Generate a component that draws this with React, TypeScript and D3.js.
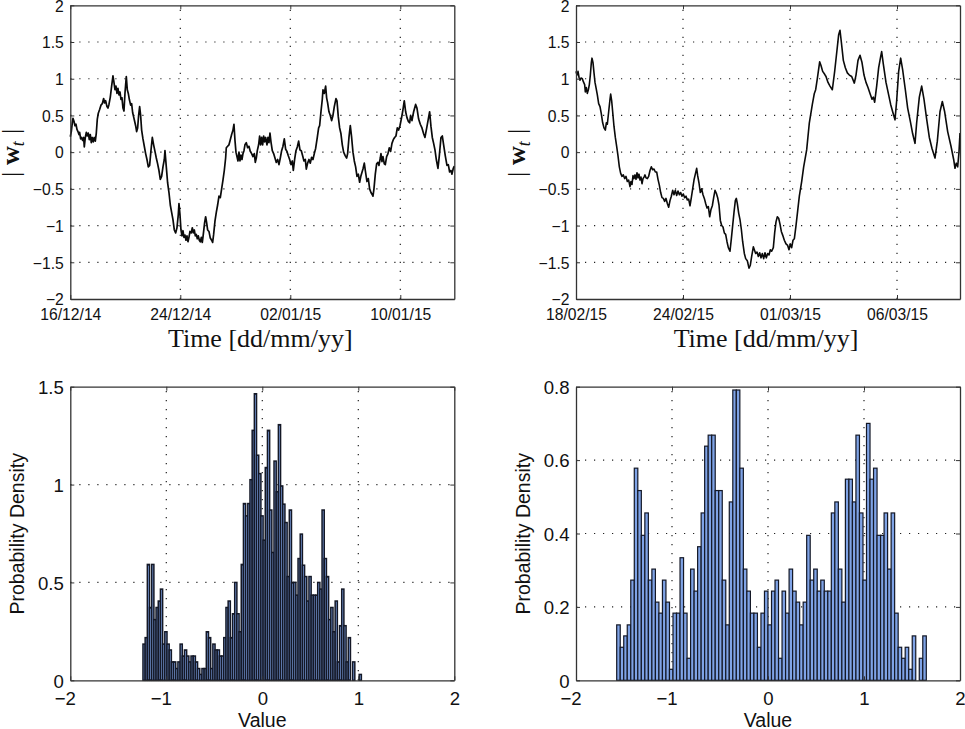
// Two weight traces with their value histograms, MATLAB-style axes
import { useEffect, useRef } from "react"
import * as d3 from "d3"

type Point = [number, number]

// [sample, weight] pairs, 1152 samples across each
const traceLeft: Point[] = [
  [0,.21],[3,.28],[6,.40],[8,.46],[11,.42],[14,.36],[17,.38],[20,.31],[23,.28],[26,.24],[28,.27],[31,.18],[34,.2],[37,.16],[40,.2],[42,.07],[45,.2],[48,.27],[51,.22],[54,.26],[57,.17],[60,.24],[63,.13],[66,.2],[69,.14],[72,.2],[75,.15],[78,.26],[81,.45],[84,.53],[88,.58],[92,.64],[96,.66],[100,.73],[103,.67],[106,.7],[110,.62],[113,.6],[116,.65],[120,.75],[124,.9],[128,1.04],[131,.95],[134,.85],[137,.9],[140,.8],[143,.87],[146,.78],[149,.82],[152,.72],[155,.74],[158,.6],[161,.56],[164,.8],[168,1.03],[171,.85],[174,.8],[177,.72],[181,.64],[184,.66],[187,.54],[190,.48],[193,.42],[196,.36],[199,.28],[202,.33],[205,.5],[208,.62],[211,.5],[214,.3],[218,.18],[222,.08],[226,-.02],[230,-.1],[234,-.2],[238,-.18],[242,.02],[246,.2],[250,.1],[254,.01],[258,-.08],[262,-.16],[266,-.25],[270,-.37],[274,-.33],[278,-.2],[282,-.1],[284,.02],[288,-.2],[292,-.42],[296,-.55],[300,-.72],[304,-.82],[308,-.92],[312,-1.06],[316,-1.1],[320,-1.03],[324,-.85],[326,-.7],[329,-.85],[332,-1.06],[335,-1.14],[338,-1.07],[341,-1.16],[344,-1.13],[347,-1.2],[350,-1.14],[353,-1.22],[356,-1.16],[359,-1.08],[363,-1.1],[366,-1.03],[369,-1.1],[372,-1.06],[375,-1.14],[378,-1.12],[381,-1.18],[384,-1.14],[387,-1.2],[390,-1.22],[393,-1.16],[396,-1.23],[399,-1.12],[403,-.96],[406,-.88],[409,-.96],[412,-1.06],[416,-1.08],[420,-1.17],[424,-1.2],[427,-1.23],[430,-1.12],[434,-.94],[438,-.82],[442,-.72],[446,-.6],[450,-.62],[454,-.5],[458,-.38],[462,-.25],[466,-.08],[468,.06],[472,.08],[476,.1],[480,.17],[484,.24],[488,.3],[491,.38],[494,.16],[497,0],[500,-.06],[503,-.12],[506,0],[509,-.12],[512,-.04],[515,-.1],[518,-.02],[521,.02],
  [524,.1],[528,.13],[532,.06],[536,.08],[540,.01],[544,-.02],[548,-.06],[552,-.02],[555,-.14],[558,-.08],[561,.02],[565,.1],[568,.22],[571,.1],[574,.2],[577,.1],[580,.22],[583,.14],[586,.2],[590,.1],[593,.2],[596,.13],[599,.26],[602,.14],[606,.02],[610,-.02],[614,-.08],[618,-.14],[622,-.1],[626,-.17],[630,-.08],[634,.02],[638,.08],[642,.18],[646,.04],[650,.01],[654,-.05],[658,-.1],[662,-.17],[666,-.12],[669,-.25],[673,-.1],[677,.02],[681,.07],[685,.15],[689,.03],[693,.02],[697,-.05],[701,-.12],[705,-.1],[708,-.23],[712,-.15],[716,-.1],[720,-.15],[724,-.07],[728,-.1],[732,-.02],[736,.05],[741,.2],[745,.33],[748,.36],[752,.55],[756,.72],[758,.85],[762,.8],[766,.9],[769,.74],[772,.67],[776,.55],[780,.5],[784,.43],[788,.5],[792,.62],[797,.73],[800,.7],[804,.48],[808,.33],[812,.25],[816,.1],[820,0],[825,-.05],[829,-.08],[832,-.02],[836,.2],[840,.36],[844,.2],[848,0],[852,-.12],[856,-.2],[860,-.33],[864,-.3],[868,-.41],[872,-.32],[878,-.23],[882,-.15],[885,-.25],[890,-.4],[894,-.36],[898,-.5],[902,-.55],[906,-.58],[908,-.6],[911,-.5],[915,-.3],[919,-.16],[923,-.14],[926,-.18],[930,-.08],[932,-.02],[935,-.13],[938,-.06],[942,-.16],[945,-.17],[949,-.06],[953,-.02],[957,.06],[961,.01],[965,.12],[969,.17],[973,.2],[977,.22],[981,.33],[985,.3],[989,.36],[993,.45],[997,.55],[1002,.7],[1006,.55],[1010,.47],[1014,.42],[1018,.4],[1021,.5],[1025,.43],[1030,.55],[1036,.65],[1040,.6],[1045,.45],[1050,.38],[1055,.33],[1060,.25],[1064,.2],[1068,.3],[1074,.45],[1078,.55],[1082,.35],[1086,.2],[1090,.12],[1094,.03],[1098,-.1],[1103,-.22],[1107,-.05],[1112,.2],[1116,.22],[1120,.1],[1125,-.05],[1130,-.18],[1134,-.17],[1138,-.27],[1142,-.25],[1145,-.3],[1149,-.22],[1152,-.19],
]

const traceRight: Point[] = [
  [0,1.1],[3,1.05],[6,1.1],[9,1.02],[12,.98],[15,1.01],[19,1],[22,.96],[26,.92],[28,.82],[31,.88],[34,.8],[37,.85],[40,.92],[43,1.05],[46,1.22],[48,1.28],[51,1.22],[54,1.08],[57,.95],[60,.88],[64,.78],[68,.66],[72,.62],[76,.52],[80,.4],[84,.33],[88,.3],[91,.4],[94,.38],[98,.55],[102,.72],[104,.79],[107,.7],[110,.55],[114,.35],[118,.2],[122,.08],[126,-.05],[130,-.2],[134,-.29],[138,-.33],[142,-.31],[146,-.36],[150,-.33],[154,-.4],[158,-.38],[162,-.47],[165,-.4],[168,-.44],[171,-.32],[174,-.36],[177,-.31],[180,-.37],[183,-.28],[186,-.35],[189,-.3],[192,-.38],[195,-.34],[198,-.43],[201,-.36],[204,-.34],[207,-.31],[210,-.35],[214,-.36],[218,-.33],[222,-.25],[226,-.2],[230,-.24],[234,-.23],[238,-.27],[242,-.27],[246,-.37],[250,-.45],[254,-.55],[258,-.62],[262,-.63],[266,-.67],[270,-.63],[274,-.7],[278,-.75],[282,-.66],[286,-.6],[290,-.52],[294,-.58],[298,-.52],[302,-.59],[306,-.53],[310,-.58],[314,-.55],[318,-.6],[322,-.57],[326,-.62],[330,-.6],[334,-.65],[338,-.64],[342,-.73],[346,-.62],[350,-.5],[354,-.38],[358,-.3],[362,-.22],[365,-.32],[369,-.42],[373,-.55],[377,-.5],[381,-.58],[385,-.63],[389,-.7],[393,-.76],[397,-.74],[401,-.88],[405,-.78],[409,-.73],[413,-.62],[417,-.52],[421,-.56],[425,-.62],[429,-.72],[433,-.93],[437,-1],[441,-1.02],[445,-1.1],
  [449,-1.12],[453,-1.22],[457,-1.3],[462,-1.35],[466,-1.18],[470,-1],[474,-.82],[478,-.66],[481,-.63],[484,-.7],[488,-.83],[492,-.92],[496,-1.05],[500,-1.22],[505,-1.38],[509,-1.45],[514,-1.48],[519,-1.58],[523,-1.54],[527,-1.42],[532,-1.29],[535,-1.33],[539,-1.38],[543,-1.36],[547,-1.42],[551,-1.37],[555,-1.44],[559,-1.38],[563,-1.45],[567,-1.37],[571,-1.44],[575,-1.38],[579,-1.4],[583,-1.33],[587,-1.35],[592,-1.3],[596,-1.1],[600,-.95],[604,-.88],[608,-.9],[612,-.98],[616,-1.08],[620,-1.13],[625,-1.2],[630,-1.25],[635,-1.27],[639,-1.33],[643,-1.25],[647,-1.3],[651,-1.2],[655,-1.18],[660,-1],[665,-.8],[670,-.6],[677,-.4],[683,-.2],[692,.03],[700,.4],[709,.65],[715,.8],[719,.85],[724,1],[731,1.23],[735,1.18],[740,1.1],[746,1.06],[750,1.03],[756,.95],[762,.9],[769,.85],[776,1.1],[782,1.35],[788,1.6],[792,1.66],[796,1.5],[802,1.25],[808,1.15],[814,1.08],[820,1.05],[827,1.03],[835,.94],[840,1.05],[846,1.25],[852,1.32],[858,1.22],[864,1.05],[870,.95],[876,.88],[882,.8],[888,.72],[892,.75],[896,.68],[902,.9],[908,1.15],[914,1.3],[917,1.37],[922,1.2],[930,.95],[937,.8],[944,.65],[950,.55],[957,.44],[962,.7],[968,1.1],[974,1.28],[980,1.12],[988,.85],[995,.6],[1003,.42],[1010,.25],[1017,.12],[1022,.4],[1030,.75],[1037,.9],[1044,.72],[1052,.45],[1060,.2],[1068,.05],[1077,-.08],[1084,.15],[1092,.55],[1099,.69],[1106,.55],[1115,.28],[1125,.08],[1133,-.1],[1137,-.22],[1141,-.15],[1145,-.2],[1149,0],[1152,.26],
]

const ticksLeft = [0, 330, 660, 990]
const labelsLeft = ["16/12/14", "24/12/14", "02/01/15", "10/01/15"]
const ticksRight = [0, 321, 642, 963]
const labelsRight = ["18/02/15", "24/02/15", "01/03/15", "06/03/15"]
const weightTicks = [-2, -1.5, -1, -0.5, 0, 0.5, 1, 1.5, 2]

// Histogram densities, one per equal-width bin
const densityLeft = [
  .185,.218,.592,.372,.592,.31,.372,.405,.466,.185,
  .248,.185,.155,.094,.094,.06,.094,.185,.124,.155,
  .124,.094,.124,.124,.094,.06,.03,.06,.06,.248,
  .218,.06,.185,.155,.155,.124,.124,.218,.372,.405,
  .218,.34,.5,.34,.248,.592,.903,.84,.903,1.025,
  1.277,1.464,1.15,1.056,.84,.716,1.087,1.277,.87,.653,
  1.12,.963,1.306,.993,.9,.806,.53,.87,.5,.5,
  .435,.622,.747,.588,.53,.405,.53,.435,.435,.435,
  .5,.466,.87,.622,.53,.31,.372,.248,.405,.094,
  .279,.466,.279,.094,.218,0,.094,0,0,.03,
]
const densityRight = [
  .151,.09,.121,.151,.273,.578,.517,.395,.456,.273,
  .303,.213,.183,.273,.213,.03,.183,.183,.334,.183,
  .06,.303,.243,.364,.456,.638,.668,.668,.517,.517,
  .273,.151,.486,.791,.791,.578,.303,.243,.183,.183,
  .09,.183,.243,.151,.243,.273,.06,.243,.183,.303,
  .243,.213,.151,.213,.395,.273,.303,.243,.273,.243,
  .243,.456,.486,.303,.213,.548,.548,.486,.668,.456,
  .273,.7,.548,.578,.395,.395,.456,.303,.456,.183,
  .09,.06,.09,.03,.121,0,.06,.121,
]
const rangeLeft: [number, number] = [-1.243, 1.032]
const rangeRight: [number, number] = [-1.576, 1.649]
const valueTicks = [-2, -1, 0, 1, 2]
const densityTicksLeft = [0, 0.5, 1, 1.5]
const densityTicksRight = [0, 0.2, 0.4, 0.6, 0.8]

const SANS = "'Liberation Sans', Arial, sans-serif"
const SERIF = "'Liberation Serif', 'Times New Roman', serif"
const INK = "#333"

type Selection = d3.Selection<SVGGElement, unknown, null, undefined>
type Scale = d3.ScaleLinear<number, number>

// Inward ticks on all four sides and the box
function drawFrame(
  g: Selection,
  x: Scale,
  y: Scale,
  xTicks: number[],
  yTicks: number[],
  fontSize: number,
  xFormat: (v: number) => string,
  xLabelY: number,
  xLabelShift: (v: number) => number
) {
  const [x0, x1] = x.range()
  const [y0, y1] = y.range()

  const axes: [d3.Axis<d3.NumberValue>, number, number, string][] = [
    [d3.axisBottom(x).tickValues(xTicks).tickFormat((v) => xFormat(+v)), 0, y0, "bottom"],
    [d3.axisTop(x).tickValues(xTicks).tickFormat(() => ""), 0, y1, "top"],
    [d3.axisLeft(y).tickValues(yTicks).tickFormat(d3.format("~g") as any), x0, 0, "left"],
    [d3.axisRight(y).tickValues(yTicks).tickFormat(() => ""), x1, 0, "right"],
  ]
  axes.forEach(([axis, tx, ty, side]) => {
    const a = g.append("g")
      .attr("transform", `translate(${tx},${ty})`)
      .call(axis.tickSize(-4).tickSizeOuter(0))
    a.select(".domain").attr("stroke", INK).attr("stroke-width", 1.3)
    a.selectAll(".tick line").attr("stroke", INK).attr("stroke-width", 1)
    const text = a.selectAll<SVGTextElement, number>("text")
      .attr("font-family", SANS)
      .attr("font-size", fontSize)
      .attr("fill", "#111")
    // labels sit outside the box although the ticks point in
    if (side === "bottom") {
      text.attr("y", xLabelY - y0).attr("dy", 0).attr("x", (v) => xLabelShift(v))
    }
    if (side === "left") text.attr("x", -6.5).attr("dy", "0.37em")
  })
}

function drawGrid(g: Selection, x: Scale, y: Scale, xTicks: number[], yTicks: number[]) {
  const [x0, x1] = x.range()
  const [y0, y1] = y.range()
  const grid = g.append("g")
    .attr("stroke", "#222")
    .attr("stroke-width", 1.2)
    .attr("stroke-dasharray", "1.2 7.8")
  grid.selectAll(".v").data(xTicks.filter((v) => x(v) > x0 + 1 && x(v) < x1 - 1)).enter().append("line")
    .attr("x1", (v) => x(v)).attr("x2", (v) => x(v)).attr("y1", y0).attr("y2", y1)
  grid.selectAll(".h").data(yTicks.filter((v) => y(v) < y0 - 1 && y(v) > y1 + 1)).enter().append("line")
    .attr("y1", (v) => y(v)).attr("y2", (v) => y(v)).attr("x1", x0).attr("x2", x1)
}

function drawTrace(g: Selection, left: number, trace: Point[], ticks: number[], labels: string[], lineWidth: number) {
  const x = d3.scaleLinear().domain([0, 1152]).range([left, left + 384])
  const y = d3.scaleLinear().domain([-2, 2]).range([299, 5.3])
  drawGrid(g, x, y, ticks, weightTicks)

  const line = d3.line<Point>().x((d) => x(d[0])).y((d) => y(d[1]))
  g.append("path")
    .datum(trace)
    .attr("d", line)
    .attr("fill", "none")
    .attr("stroke", "#0a0a0a")
    .attr("stroke-width", lineWidth)
    .attr("stroke-linejoin", "round")

  drawFrame(g, x, y, ticks, weightTicks, 15.7, (v) => labels[ticks.indexOf(v)], 319.5, () => 0)

  // x label, Computer Modern in the original
  g.append("text")
    .attr("x", left + 190)
    .attr("y", 346.7)
    .attr("text-anchor", "middle")
    .attr("font-family", SERIF)
    .attr("font-size", 26)
    .attr("fill", "#111")
    .text("Time [dd/mm/yy]")

  // y label |w_t|
  const label = g.append("text")
    .attr("transform", `translate(${left - 51},153) rotate(-90)`)
    .attr("text-anchor", "middle")
    .attr("font-family", SERIF)
    .attr("font-size", 26)
    .attr("fill", "#111")
  label.append("tspan").text("|")
  label.append("tspan").attr("dx", 7).attr("font-weight", "bold").text("w")
  label.append("tspan").attr("dy", 5).attr("font-size", 18).attr("font-style", "italic").text("t")
  label.append("tspan").attr("dy", -5).attr("dx", 7).text("|")
}

function drawHistogram(
  g: Selection,
  left: number,
  density: number[],
  range: [number, number],
  densityTicks: number[],
  edgeWidth: number
) {
  const x = d3.scaleLinear().domain([-2, 2]).range([left, left + 384])
  const y = d3.scaleLinear().domain([0, densityTicks[densityTicks.length - 1]]).range([680.3, 386.7])
  drawGrid(g, x, y, valueTicks, densityTicks)

  const binWidth = (range[1] - range[0]) / density.length
  const bins = density
    .map((d, i) => ({ d, from: range[0] + i * binWidth, to: range[0] + (i + 1) * binWidth }))
    .filter((b) => b.d > 0)
  g.append("g")
    .selectAll("rect")
    .data(bins)
    .enter()
    .append("rect")
    .attr("x", (b) => x(b.from))
    .attr("y", (b) => y(b.d))
    .attr("width", (b) => x(b.to) - x(b.from))
    .attr("height", (b) => y(0) - y(b.d))
    .attr("fill", "#7fa3e6")
    .attr("stroke", "#141826")
    .attr("stroke-width", edgeWidth)

  drawFrame(g, x, y, valueTicks, densityTicks, 18.6, d3.format("~g") as any, 705, (v) => (v < 0 ? -5.5 : 0))

  g.append("text")
    .attr("x", left + 192)
    .attr("y", 727)
    .attr("text-anchor", "middle")
    .attr("font-family", SANS)
    .attr("font-size", 19.5)
    .attr("fill", "#111")
    .text("Value")

  g.append("text")
    .attr("transform", `translate(${left - 46.5},533.8) rotate(-90)`)
    .attr("text-anchor", "middle")
    .attr("font-family", SANS)
    .attr("font-size", 19.5)
    .attr("fill", "#111")
    .text("Probability Density")
}

export default function App() {
  const ref = useRef<SVGSVGElement>(null)

  useEffect(() => {
    if (!ref.current) return
    const svg = d3.select(ref.current)
    svg.selectAll("*").remove()
    const panel = () => svg.append("g") as unknown as Selection

    drawTrace(panel(), 70.3, traceLeft, ticksLeft, labelsLeft, 1.7)
    drawTrace(panel(), 576, traceRight, ticksRight, labelsRight, 1.6)
    drawHistogram(panel(), 70.3, densityLeft, rangeLeft, densityTicksLeft, 1.5)
    drawHistogram(panel(), 576, densityRight, rangeRight, densityTicksRight, 1.2)
  }, [])

  return (
    <svg
      ref={ref}
      width={965}
      height={729}
      style={{ position: "absolute", left: 0, top: 0, background: "#fff" }}
    />
  )
}
